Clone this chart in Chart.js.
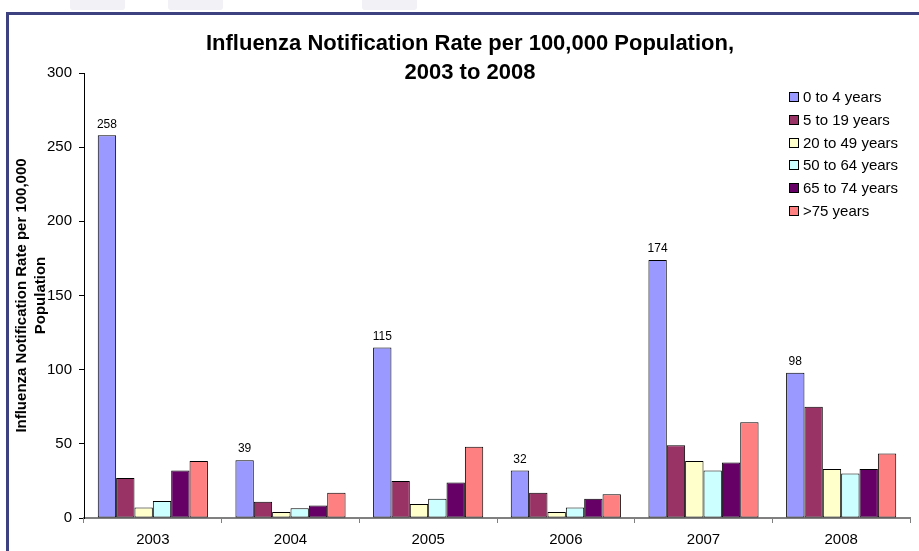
<!DOCTYPE html>
<html>
<head>
<meta charset="utf-8">
<script src="https://cdn.jsdelivr.net/npm/chart.js@4.4.0/dist/chart.umd.min.js"></script>
<style>
  html, body { margin: 0; padding: 0; background: #fff; }
  body { width: 919px; height: 551px; position: relative; overflow: hidden; }
  .tab { position: absolute; top: 0; height: 10px; width: 55px; background: #f1f1f6; border-radius: 0 0 3px 3px; }
  #frame { position: absolute; left: 6px; top: 12px; width: 940px; height: 560px;
           border-top: 3px solid #3d4180; border-left: 3px solid #3d4180; }
  #wrap { position: absolute; left: 0; top: 0; width: 919px; height: 551px; }
</style>
</head>
<body>
<div class="tab" style="left:70px"></div>
<div class="tab" style="left:168px"></div>
<div class="tab" style="left:362px"></div>
<div id="frame"></div>
<div id="wrap"><canvas id="chart" width="919" height="551"></canvas></div>
<script>
// data
const years = ['2003', '2004', '2005', '2006', '2007', '2008'];
const ageGroups = ['0 to 4 years', '5 to 19 years', '20 to 49 years', '50 to 64 years', '65 to 74 years', '>75 years'];
const age0to4 = [258, 39, 115, 32, 174, 98];
const age5to19 = [27, 11, 25, 17, 49, 75];
const age20to49 = [7, 4, 9.5, 4, 38.5, 33];
const age50to64 = [11.5, 6.5, 13, 7, 32, 30];
const age65to74 = [32, 8.5, 24, 13, 37.5, 33];
const age75plus = [38.5, 17, 48, 16, 64.5, 43.5];
const yTicks = [0, 50, 100, 150, 200, 250, 300];

const colors = ['#9999ff', '#993366', '#ffffcc', '#ccffff', '#660066', '#ff8080'];
const seriesValues = [age0to4, age5to19, age20to49, age50to64, age65to74, age75plus];

const FONT = 'Arial, "Liberation Sans", sans-serif';

// value labels only on the first series
const valueLabels = {
    id: 'valueLabels',
    afterDatasetsDraw(chart) {
        const ctx = chart.ctx;
        const meta = chart.getDatasetMeta(0);
        ctx.save();
        ctx.font = '12px ' + FONT;
        ctx.fillStyle = '#000';
        ctx.textAlign = 'center';
        ctx.textBaseline = 'bottom';
        meta.data.forEach((bar, i) => {
            ctx.fillText(String(age0to4[i]), bar.x, bar.y - 5);
        });
        ctx.restore();
    }
};

// title and legend sit over the plot, like the original
const overlay = {
    id: 'overlay',
    afterDraw(chart) {
        const ctx = chart.ctx;
        ctx.save();
        ctx.fillStyle = '#000';
        ctx.font = 'bold 22px ' + FONT;
        ctx.textAlign = 'center';
        ctx.textBaseline = 'middle';
        ctx.fillText('Influenza Notification Rate per 100,000 Population,', 470, 44);
        ctx.fillText('2003 to 2008', 470, 73);

        ctx.font = '15px ' + FONT;
        ctx.textAlign = 'left';
        ageGroups.forEach((label, i) => {
            const y = Math.round(97 + i * 22.8);
            ctx.fillStyle = colors[i];
            ctx.fillRect(789.5, y - 4.5, 9, 9);
            ctx.strokeStyle = '#000';
            ctx.lineWidth = 1;
            ctx.strokeRect(789.5, y - 4.5, 9, 9);
            ctx.fillStyle = '#000';
            ctx.fillText(label, 803, y + 1);
        });
        ctx.restore();
    }
};

const ctx = document.getElementById('chart').getContext('2d');
new Chart(ctx, {
    type: 'bar',
    data: {
        labels: years,
        datasets: ageGroups.map((label, i) => ({
            label: label,
            data: seriesValues[i],
            backgroundColor: colors[i],
            borderColor: '#000',
            borderWidth: 1,
            borderSkipped: false,
            barPercentage: 1.0,
            categoryPercentage: 0.8,
        })),
    },
    options: {
        responsive: false,
        animation: false,
        layout: { padding: { left: 10, right: 9, top: 73, bottom: 0 } },
        plugins: {
            legend: { display: false },
            title: { display: false },
            tooltip: { enabled: false },
        },
        scales: {
            x: {
                grid: { display: true, drawOnChartArea: false, drawTicks: true, tickLength: 5, color: '#808080' },
                border: { display: true, color: '#808080', width: 2 },
                ticks: { color: '#000', font: { family: FONT, size: 15 }, padding: 8, maxRotation: 0 },
                afterFit: scale => { scale.height = 33; },
            },
            y: {
                min: 0,
                max: 300,
                afterBuildTicks: scale => { scale.ticks = yTicks.map(v => ({ value: v })); },
                grid: { display: true, drawOnChartArea: false, drawTicks: true, tickLength: 5, color: '#000' },
                border: { display: true, color: '#000', width: 1 },
                ticks: { color: '#000', font: { family: FONT, size: 15 }, padding: 7 },
                title: {
                    display: true,
                    text: ['Influenza Notification Rate per 100,000', 'Population'],
                    color: '#000',
                    font: { family: FONT, size: 15, weight: 'bold', lineHeight: 1.3 },
                    padding: { top: 2, bottom: 0 },
                },
                afterFit: scale => { scale.width = 74; },
            },
        },
    },
    plugins: [valueLabels, overlay],
});
</script>
</body>
</html>
